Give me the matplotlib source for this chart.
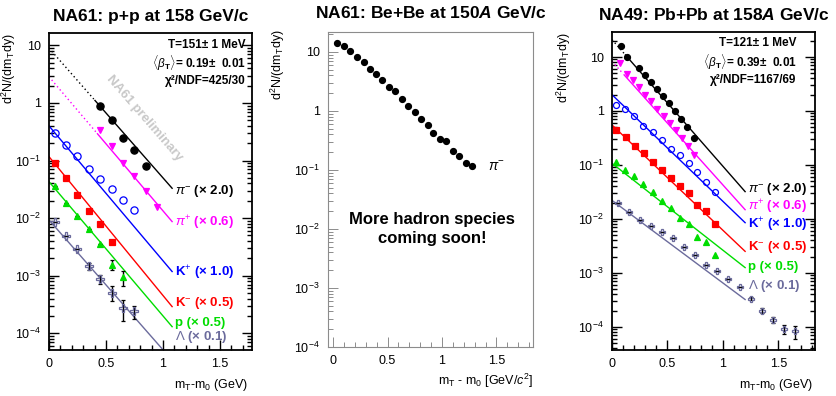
import numpy as np
import matplotlib
matplotlib.use("Agg")
import matplotlib.pyplot as plt
from matplotlib.ticker import FixedLocator, LogLocator, FuncFormatter, MultipleLocator, NullFormatter

plt.rcParams['font.family'] = ['Liberation Sans', 'DejaVu Sans']
plt.rcParams['mathtext.fontset'] = 'custom'
plt.rcParams['mathtext.rm'] = 'Liberation Sans'
plt.rcParams['mathtext.it'] = 'Liberation Sans:italic'
plt.rcParams['mathtext.bf'] = 'Liberation Sans:bold'
plt.rcParams['mathtext.bfit'] = 'Liberation Sans:italic:bold'

# ---------------- data: NA61 p+p 158 GeV/c ----------------
pp_pim_x = [0.45, 0.55, 0.65, 0.75, 0.85]
pp_pim_y = [0.88, 0.50, 0.25, 0.155, 0.080]
pp_pip_x = [0.45, 0.55, 0.65, 0.75, 0.85, 0.95]
pp_pip_y = [0.34, 0.18, 0.091, 0.053, 0.030, 0.0158]
pp_kp_x = [0.05, 0.15, 0.25, 0.35, 0.45, 0.55, 0.65, 0.75]
pp_kp_y = [0.30, 0.185, 0.12, 0.071, 0.048, 0.032, 0.021, 0.0137]
pp_km_x = [0.05, 0.15, 0.25, 0.35, 0.45, 0.55]
pp_km_y = [0.092, 0.049, 0.025, 0.0135, 0.0079, 0.0038]
pp_p_x = [0.05, 0.15, 0.25, 0.35, 0.45, 0.55, 0.65]
pp_p_y = [0.036, 0.0186, 0.0107, 0.0065, 0.0035, 0.00155, 0.00094]
pp_p_err = [0.0, 0.0, 0.0, 0.0, 0.0, 0.0003, 0.00027]
pp_lam_x = [0.05, 0.15, 0.25, 0.35, 0.45, 0.55, 0.65, 0.75]
pp_lam_y = [0.0085, 0.0049, 0.0029, 0.00148, 0.00087, 0.00051, 0.00027, 0.00024]
pp_lam_err = [0.0, 0.0, 0.0, 0.0002, 0.00016, 0.00014, 0.00011, 0.00006]

# blast-wave fit lines: value at x=0, value at x_end, start of solid part
pp_fit_start = [9.0, 2.86, 0.40, 0.117, 0.043, 0.0093]
pp_fit_end = [0.033, 0.0087, 0.00118, 2.9e-4, 1.3e-4, 3.4e-5]
pp_fit_xend = 1.08
pp_fit_solid = [0.40, 0.42, 0.0, 0.0, 0.0, 0.0]

# ---------------- data: NA61 Be+Be 150A GeV/c ----------------
bebe_x = [0.04, 0.10, 0.16, 0.22, 0.28, 0.34, 0.39, 0.45, 0.51, 0.57, 0.63,
          0.69, 0.75, 0.81, 0.87, 0.92, 0.98, 1.04, 1.10, 1.16, 1.22, 1.275]
bebe_y = [14.0, 12.8, 10.5, 8.3, 6.7, 5.2, 4.2, 3.35, 2.5, 2.2, 1.6,
          1.2, 0.96, 0.72, 0.57, 0.42, 0.34, 0.31, 0.21, 0.17, 0.129, 0.115]

# ---------------- data: NA49 Pb+Pb 158A GeV/c ----------------
pb_pim_x = [0.08, 0.135, 0.24, 0.295, 0.35, 0.405, 0.46, 0.515, 0.57, 0.625, 0.68, 0.735]
pb_pim_y = [16.0, 10.0, 6.2, 4.6, 3.4, 2.55, 1.9, 1.4, 1.02, 0.72, 0.50, 0.31]
pb_pip_x = [0.075, 0.135, 0.19, 0.245, 0.30, 0.355, 0.41, 0.465, 0.52, 0.575, 0.63, 0.685, 0.74]
pb_pip_y = [7.6, 4.9, 3.7, 2.75, 2.0, 1.5, 1.1, 0.82, 0.60, 0.44, 0.32, 0.22, 0.15]
pb_kp_x = [0.04, 0.12, 0.20, 0.28, 0.37, 0.45, 0.53, 0.61, 0.69, 0.77, 0.85, 0.93]
pb_kp_y = [1.29, 1.07, 0.79, 0.53, 0.40, 0.29, 0.20, 0.153, 0.107, 0.075, 0.049, 0.032]
pb_km_x = [0.04, 0.13, 0.21, 0.29, 0.37, 0.45, 0.53, 0.61, 0.69, 0.77, 0.85, 0.93]
pb_km_y = [0.45, 0.33, 0.22, 0.165, 0.115, 0.081, 0.058, 0.041, 0.030, 0.018, 0.0138, 0.0080]
pb_p_x = [0.04, 0.12, 0.20, 0.28, 0.37, 0.45, 0.53, 0.61, 0.69, 0.77, 0.85, 0.93]
pb_p_y = [0.115, 0.080, 0.063, 0.044, 0.031, 0.0215, 0.0158, 0.0105, 0.0079, 0.0047, 0.0037, 0.0021]
pb_lam_x = [0.05, 0.15, 0.25, 0.35, 0.45, 0.55, 0.65, 0.75, 0.85, 0.95, 1.05,
            1.15, 1.25, 1.35, 1.45, 1.55, 1.65]
pb_lam_y = [0.0194, 0.0132, 0.0094, 0.0075, 0.0057, 0.0044, 0.0030, 0.0021, 0.0014, 0.0011, 0.00076,
            0.00055, 0.00033, 0.00020, 0.000135, 0.000091, 0.000082]
pb_lam_err = [0, 0, 0, 0, 0, 0, 0, 0, 0, 0, 0, 0, 0.00002, 0.00002, 0.00002, 0.000016, 0.000022]

pb_fit_start = [21.0, 8.3, 2.0, 0.55, 0.107, 0.022]
pb_fit_end = [0.032, 0.0148, 0.0085, 0.0025, 0.00125, 0.00032]
pb_fit_xend = 1.2
pb_fit_solid = [0.12, 0.10, 0.0, 0.0, 0.0, 0.0]

species = [r"$\pi^{-}$ (× 2.0)", r"$\pi^{+}$ (× 0.6)", r"K$^{+}$ (× 1.0)",
           r"K$^{-}$ (× 0.5)", "p (× 0.5)", r"$\Lambda$ (× 0.1)"]
colors = ['black', '#ff00ff', '#0000ff', '#ff0000', '#00dd00', '#6b6b9c']
markers = ['o', 'v', 'o', 's', '^', 'P']
filled = [True, True, False, True, True, False]

pp_stats = ["T=151± 1 MeV", r"$\langle\beta_{\mathbf{T}}\rangle$= 0.19±  0.01", "χ²/NDF=425/30"]
pb_stats = ["T=121± 1 MeV", r"$\langle\beta_{\mathbf{T}}\rangle$= 0.39±  0.01", "χ²/NDF=1167/69"]


def log_fmt(v, pos):
    if np.isclose(v, 10):
        return "10"
    if np.isclose(v, 1):
        return "1"
    return r"$10^{%d}$" % int(round(np.log10(v)))


def style_axis(ax, xlim, ylim, frame_color='black', lw=1.3, right_ticks=True):
    ax.set_yscale('log')
    ax.set_xlim(*xlim)
    ax.set_ylim(*ylim)
    ax.yaxis.set_major_locator(FixedLocator([1e-4, 1e-3, 1e-2, 1e-1, 1, 10]))
    ax.yaxis.set_major_formatter(FuncFormatter(log_fmt))
    ax.yaxis.set_minor_locator(LogLocator(base=10, subs=np.arange(2, 10), numticks=20))
    ax.yaxis.set_minor_formatter(NullFormatter())
    ax.xaxis.set_major_locator(MultipleLocator(0.5))
    ax.xaxis.set_minor_locator(MultipleLocator(0.1))
    ax.xaxis.set_major_formatter(FuncFormatter(lambda v, p: "%g" % v))
    ax.tick_params(which='both', direction='in', right=right_ticks, top=False,
                   color=frame_color, labelsize=9, width=1.0 if lw > 1 else 0.7, pad=6)
    ax.tick_params(which='major', length=7)
    ax.tick_params(which='minor', length=3.5)
    for s in ax.spines.values():
        s.set_color(frame_color)
        s.set_linewidth(lw)


def draw_species(ax, xs, ys, errs, fit_start, fit_end, fit_xend, fit_solid, ms):
    for i in range(6):
        xa = np.linspace(0.0, fit_xend, 100)
        ya = np.geomspace(fit_start[i], fit_end[i], 100)
        solid = xa >= fit_solid[i]
        if fit_solid[i] > 0:
            ax.plot(xa[~solid], ya[~solid], color=colors[i], lw=1.0, ls=(0, (1, 2)))
        ax.plot(xa[solid], ya[solid], color=colors[i], lw=1.0)
        fc = colors[i] if filled[i] else 'none'
        size = ms * (0.95 if markers[i] in ('v', '^', 's') else 1.0)
        if markers[i] == 'P':
            size = ms * 1.1
        if errs[i] is not None:
            ax.errorbar(xs[i], ys[i], yerr=errs[i], fmt=markers[i], color=colors[i],
                        mfc=fc, mec=colors[i], ms=size, mew=0.9, ecolor='black',
                        elinewidth=1.0, capsize=1.5, zorder=3)
        else:
            ax.plot(xs[i], ys[i], markers[i], color=colors[i], mfc=fc, mec=colors[i],
                    ms=size, mew=0.9, zorder=3)


fig = plt.figure(figsize=(8.37, 3.96), dpi=100)
ax1 = fig.add_axes([0.0585, 0.116, 0.2425, 0.8005])
ax2 = fig.add_axes([0.3919, 0.1237, 0.2449, 0.7955])
ax3 = fig.add_axes([0.7312, 0.116, 0.2425, 0.803])

ylab = r"d$^{2}$N/(dm$_{\mathrm{T}}$dy)"

# ---- left panel ----
style_axis(ax1, (0, 1.78), (5.1e-5, 16.4))
draw_species(ax1,
             [pp_pim_x, pp_pip_x, pp_kp_x, pp_km_x, pp_p_x, pp_lam_x],
             [pp_pim_y, pp_pip_y, pp_kp_y, pp_km_y, pp_p_y, pp_lam_y],
             [None, None, None, None, pp_p_err, pp_lam_err],
             pp_fit_start, pp_fit_end, pp_fit_xend, pp_fit_solid, 5.2)
ax1.set_title("NA61: p+p at 158 GeV/c", fontsize=12.5, fontweight='bold', pad=9)
ax1.set_ylabel(ylab, fontsize=9, loc='top')
ax1.yaxis.set_label_coords(-0.155, 1.0)
ax1.set_xlabel(r"m$_{\mathrm{T}}$-m$_{0}$ (GeV)", fontsize=9, loc='right')
ax1.xaxis.set_label_coords(0.98, -0.085)
for i, yy in enumerate([0.962, 0.905, 0.85]):
    ax1.text(0.97, yy, pp_stats[i], transform=ax1.transAxes, ha='right', va='center',
             fontsize=8.5, fontweight='bold')
for i, yy in enumerate([0.502, 0.40, 0.244, 0.148, 0.085, 0.042]):
    ax1.text(0.62, yy, species[i], transform=ax1.transAxes, ha='left', va='center',
             fontsize=9.5, fontweight='bold', color=colors[i])
ax1.text(0.47, 0.73, "NA61 preliminary", transform=ax1.transAxes, rotation=-49,
         ha='center', va='center', fontsize=9.5, fontweight='bold', color='#c8c8c8')

# ---- middle panel ----
style_axis(ax2, (-0.046, 1.835), (1e-4, 21.8), frame_color='#8c8c8c', lw=0.8, right_ticks=False)
ax2.plot(bebe_x, bebe_y, 'o', color='black', ms=4.2)
ax2.set_title(r"NA61: Be+Be at 150$\mathbfit{A}$ GeV/c", fontsize=12.5, fontweight='bold', pad=10)
ax2.set_ylabel(ylab, fontsize=9, loc='top')
ax2.yaxis.set_label_coords(-0.2, 1.01)
ax2.set_xlabel(r"m$_{\mathrm{T}}$ - m$_{0}$ [GeV/$c^{2}$]", fontsize=9, loc='right')
ax2.xaxis.set_label_coords(1.0, -0.08)
ax2.text(0.78, 0.571, r"$\pi^{-}$", transform=ax2.transAxes, ha='left', va='center', fontsize=10)
ax2.text(0.507, 0.375, "More hadron species\ncoming soon!", transform=ax2.transAxes,
         ha='center', va='center', fontsize=12, fontweight='bold', linespacing=1.3)

# ---- right panel ----
style_axis(ax3, (0, 1.83), (3.7e-5, 29))
draw_species(ax3,
             [pb_pim_x, pb_pip_x, pb_kp_x, pb_km_x, pb_p_x, pb_lam_x],
             [pb_pim_y, pb_pip_y, pb_kp_y, pb_km_y, pb_p_y, pb_lam_y],
             [None, None, None, None, None, pb_lam_err],
             pb_fit_start, pb_fit_end, pb_fit_xend, pb_fit_solid, 4.3)
ax3.set_title(r"NA49: Pb+Pb at 158$\mathbfit{A}$ GeV/c", fontsize=12.5, fontweight='bold', pad=9)
ax3.set_ylabel(ylab, fontsize=9, loc='top')
ax3.yaxis.set_label_coords(-0.19, 1.0)
ax3.set_xlabel(r"m$_{\mathrm{T}}$-m$_{0}$ (GeV)", fontsize=9, loc='right')
ax3.xaxis.set_label_coords(0.99, -0.085)
for i, yy in enumerate([0.965, 0.906, 0.85]):
    ax3.text(0.91, yy, pb_stats[i], transform=ax3.transAxes, ha='right', va='center',
             fontsize=8.5, fontweight='bold')
for i, yy in enumerate([0.505, 0.449, 0.395, 0.324, 0.261, 0.201]):
    ax3.text(0.67, yy, species[i], transform=ax3.transAxes, ha='left', va='center',
             fontsize=9.5, fontweight='bold', color=colors[i])

fig.savefig("out.png", dpi=100)
